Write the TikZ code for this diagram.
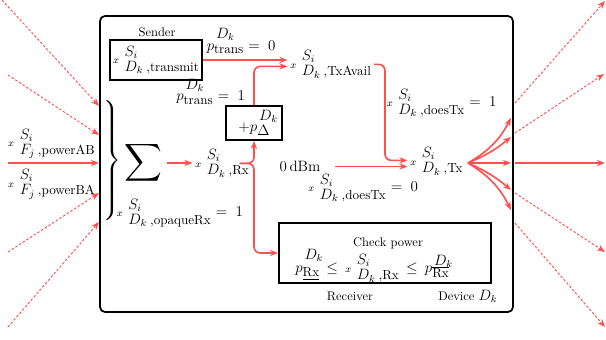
\documentclass[tikz,border=0pt]{standalone}
\usepackage{graphicx}
\usetikzlibrary{arrows.meta,calc}
\definecolor{flowred}{RGB}{255,80,80}
% superscript/subscript stack with explicit offsets
\newlength\stkw
\newcommand{\stk}[4]{%
  \sbox0{#1}\sbox2{#2}%
  \stkw=\wd0 \ifdim\wd2>\stkw \stkw=\wd2 \fi
  \rlap{\raisebox{#3}{\usebox0}}\rlap{\raisebox{-#4}{\usebox2}}\kern\stkw}
\newcommand{\subsz}{\fontsize{10.5}{12}\selectfont}
\newcommand{\mfont}{\fontsize{11.5}{14}\selectfont}
% x^{S_i}_{#1_#2,#3}
\newcommand{\xv}[3]{$\scriptstyle x$\kern4.5pt\stk{$S_i$}{$#1_{#2}$\kern2.5pt{\subsz,#3}}{5.9pt}{6.3pt}}
% p^{D_k}_{#1}
\newcommand{\pv}[3]{$p$\stk{\kern1.5pt$D_k$}{#1}{#2}{#3}}
\begin{document}
\begin{tikzpicture}[x=0.8pt, y=-0.8pt,
  flow/.style={draw=flowred, line width=1.3pt, -{Stealth[length=6.5pt,width=5pt]}},
  ext/.style={draw=flowred, line width=0.75pt, dash pattern=on 2pt off 1.5pt,
    -{Stealth[length=6.5pt,width=5pt]}},
  lbl/.style={inner sep=2pt, anchor=base west, font=\mfont},
  block/.style={draw, line width=1.4pt, inner sep=0pt, font=\mfont}]
\useasboundingbox (0,0) rectangle (606,339);

% device frame
\node[block, rounded corners=4pt, minimum width=330.4pt, minimum height=236.8pt] (dev) at (306.5,164) {};

% sender
\node[block, minimum width=73.6pt, minimum height=32pt] (send) at (156,60) {\xv{D}{k}{transmit}};
\node[anchor=base] (sendlbl) at (157,36) {Sender};
\node[lbl] (ptr0) at (204,50) {\pv{\subsz trans}{9.2pt}{2.8pt}\hspace{4pt}$=\;0$};
\node[lbl] (txav) at (287.5,68) {\xv{D}{k}{TxAvail}};
\node[lbl] (ptr1) at (173.5,100.5) {\pv{\subsz trans}{9.2pt}{2.8pt}\hspace{4pt}$=\;1$};
\node[block, minimum width=44.8pt, minimum height=27.2pt] (pdel) at (254,123) {$+$\pv{$\Delta$}{9pt}{3.2pt}};

% summation of received signals
\node (brace) at (111,162.5) {\scalebox{1.6}{$\left.\vrule height 29.75pt depth 29.75pt width 0pt\right\}$}};
\node (sig) at (143.5,163) {\scalebox{2.1}{$\displaystyle\sum$}};
\node[lbl] (rx) at (192.5,167) {\xv{D}{k}{Rx}};
\node[lbl] (opq) at (114,216.7) {\xv{D}{k}{opaqueRx}\hspace{4pt}$=\;1$};
\node[lbl] (inAB) at (5.5,146.7) {\xv{F}{j}{powerAB}};
\node[lbl] (inBA) at (5.5,187) {\xv{F}{j}{powerBA}};

% transmitter side
\node[lbl] (dt1) at (384,106.7) {\xv{D}{k}{doesTx}\hspace{4pt}$=\;1$};
\node[lbl] (tx) at (407.5,165) {\xv{D}{k}{Tx}};
\node[anchor=base, font=\fontsize{12.5}{15}\selectfont] (dbm) at (300,171.7) {$0\,\mathrm{dBm}$};
\node[lbl] (dt0) at (305.5,191.5) {\xv{D}{k}{doesTx}\hspace{4pt}$=\;0$};

% receiver check
\node[block, minimum width=169.6pt, minimum height=48pt] (chk) at (385,253) {};
\node[anchor=base] (chklbl) at (388,246.7) {Check power};
\node[lbl] (ineq) at (292.5,272) {\pv{\subsz\underline{Rx}}{10.4pt}{3.8pt}\enspace$\le$\enspace\xv{D}{k}{Rx}\enspace$\le$\enspace\pv{$\overline{\mbox{\subsz Rx}}$}{5.4pt}{4.5pt}};
\node[anchor=base] (recv) at (350,300) {Receiver};
\node[lbl, font=\normalsize] (devlbl) at (435.5,300) {Device \mfont$D_k$};

% internal flow
\draw[flow] (send.east) -- (send.east -| txav.west);
\draw[flow, rounded corners=5pt] (pdel.north) |- ($(txav.west)+(0,2)$);
\draw[flow] (sig.east) -- (sig.east -| rx.west);
\coordinate (rxo) at ($(rx.east)+(-12,0)$);
\draw[flow, rounded corners=5pt] (rxo) -| (pdel.south);
\draw[flow, rounded corners=5pt] (rxo) -| (pdel.south |- chk.west) -- (chk.west);
\coordinate (drop) at (385,0);
\draw[flow, rounded corners=5pt] (txav.east) -- (drop |- txav.east) |- ($(tx.west)+(0,-1)$);
\draw[flow, shorten <=8pt] (dbm.east) -- (dbm.east -| tx.west);

% fan-out to the frame
\coordinate (fan) at (468,163);
\coordinate (t1) at (511,118);
\coordinate (t2) at (511,137);
\coordinate (t3) at (511,163);
\coordinate (t4) at (511,190);
\coordinate (t5) at (511,210);
\draw[flow] (fan) to[bend right=16] (t1);
\draw[flow] (fan) to[bend right=8] (t2);
\draw[flow] (fan) -- (t3);
\draw[flow] (fan) to[bend left=8] (t4);
\draw[flow] (fan) to[bend left=16] (t5);

% incoming links
\coordinate (a1) at (2,0);   \coordinate (b1) at (99,106);
\coordinate (a2) at (8,75);  \coordinate (b2) at (99,135);
\coordinate (a3) at (8,163); \coordinate (b3) at (99,163);
\coordinate (a4) at (8,252); \coordinate (b4) at (99,193);
\coordinate (a5) at (8,327); \coordinate (b5) at (99,222);
\draw[ext] (a1) -- (b1);
\draw[ext] (a2) -- (b2);
\draw[flow] (a3) -- (b3);
\draw[ext] (a4) -- (b4);
\draw[ext] (a5) -- (b5);

% outgoing links
\coordinate (c1) at (515,103); \coordinate (d1) at (605,1);
\coordinate (c2) at (515,133); \coordinate (d2) at (604,74);
\coordinate (c3) at (515,163); \coordinate (d3) at (605,163);
\coordinate (c4) at (515,193); \coordinate (d4) at (605,252);
\coordinate (c5) at (515,223); \coordinate (d5) at (605,327);
\draw[ext] (c1) -- (d1);
\draw[ext] (c2) -- (d2);
\draw[flow] (c3) -- (d3);
\draw[ext] (c4) -- (d4);
\draw[ext] (c5) -- (d5);
\end{tikzpicture}
\end{document}
